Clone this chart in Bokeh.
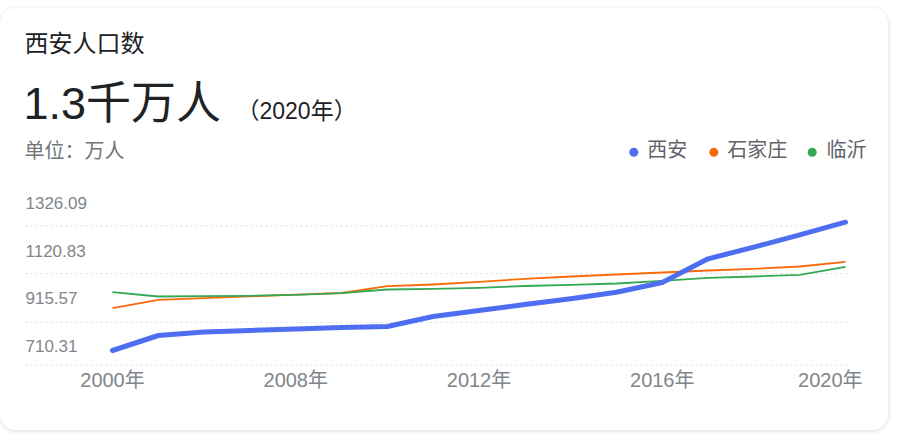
from bokeh.plotting import figure
from bokeh.models import Range1d
from bokeh.core.properties import value
from bokeh.embed import file_html
from bokeh.resources import INLINE

# ---------------- data ----------------
years = ["2000", "2005", "2006", "2007", "2008", "2009", "2010", "2011", "2012",
         "2013", "2014", "2015", "2016", "2017", "2018", "2019", "2020"]
xian = [710.31, 782.3, 799.1, 806.3, 813.5, 820.7, 825.5, 873.5, 902.3,
        931.1, 958.4, 990.1, 1036.7, 1150.4, 1206.1, 1265.6, 1326.09]
shijiazhuang = [913.3, 953.6, 961.8, 970.0, 978.1, 986.3, 1018.9, 1027.1, 1040.0,
                1054.4, 1065.5, 1075.1, 1084.7, 1094.3, 1102.4, 1113.5, 1136.0]
linyi = [990.1, 969.5, 970.9, 972.8, 977.6, 985.3, 1003.1, 1006.4, 1011.2,
         1019.9, 1025.6, 1031.9, 1044.8, 1059.2, 1065.5, 1073.6, 1112.0]
series_names = ["西安", "石家庄", "临沂"]
series_colors = ["#4e6ef2", "#fa6a0a", "#34a853"]
y_tick_labels = ["1326.09", "1120.83", "915.57", "710.31"]
x_tick_years = ["2000", "2008", "2012", "2016", "2020"]
x_tick_suffix = "年"
title_text = "西安人口数"
headline_text = "1.3千万人"
headline_year = "（2020年）"
unit_text = "单位：万人"

# ---------------- layout ----------------
W, H = 888, 422
FONT = "Liberation Sans, Noto Sans CJK SC"
X0_PX, DX_PX = 112.0, 45.8125          # canvas x of first category, spacing
Y_LO_PX, Y_HI_PX = 342.0, 213.7        # canvas y of lowest / highest tick value
LAB_TOP_PX, LAB_STEP_PX = 194.3, 47.8  # canvas y of tick labels

tick_vals = [float(t) for t in y_tick_labels]
y_hi, y_lo = max(tick_vals), min(tick_vals)
upp = (y_hi - y_lo) / (Y_LO_PX - Y_HI_PX)
lupp = (y_hi - y_lo) / ((len(tick_vals) - 1) * LAB_STEP_PX)

x_range = Range1d(-X0_PX / DX_PX, (W - X0_PX) / DX_PX)
y_range = Range1d(y_lo - (H - Y_LO_PX) * upp, y_hi + Y_HI_PX * upp)


def px_x(cx):
    return (cx - X0_PX) / DX_PX


def px_y(cy):
    return y_hi + (Y_HI_PX - cy) * upp


p = figure(width=W, height=H, x_range=x_range, y_range=y_range,
           output_backend="svg", toolbar_location=None,
           x_axis_location=None, y_axis_location=None, min_border=0)
p.extra_y_ranges = {"lab": Range1d(y_hi - (H - LAB_TOP_PX) * lupp, y_hi + LAB_TOP_PX * lupp)}
p.grid.visible = False
p.outline_line_color = None
p.background_fill_color = "white"
p.border_fill_color = "white"
p.styles = {"margin-top": "8px", "border-radius": "16px", "overflow": "hidden",
            "box-shadow": "0 1px 4px rgba(32,33,36,0.18)"}

# grid lines (dotted), placed just below each tick label
grid_offsets_px = [23, 23, 24, 19]
grid_y = [v - o * lupp for v, o in zip(tick_vals, grid_offsets_px)]
p.segment(x0=[px_x(25)] * len(grid_y), x1=[px_x(848)] * len(grid_y),
          y0=grid_y, y1=grid_y, y_range_name="lab",
          line_color="#dadce0", line_width=1, line_dash="2 3")

# y tick labels
p.text(x=[px_x(25)] * len(tick_vals), y=tick_vals, text=y_tick_labels,
       y_range_name="lab", text_font=value(FONT), text_font_size="17px",
       text_color="#80868b", text_align="left", text_baseline="middle")

# x tick labels
xs = list(range(len(years)))
x_tick_pos = [years.index(y) for y in x_tick_years]
x_tick_text = [y + x_tick_suffix for y in x_tick_years]
x_tick_align = ["center"] * (len(x_tick_years) - 1) + ["right"]
x_tick_xoff = [0] * (len(x_tick_years) - 1) + [17]
p.text(x=x_tick_pos, y=[px_y(371.5)] * len(x_tick_pos), text=x_tick_text,
       x_offset=x_tick_xoff, text_align=x_tick_align,
       text_font=value(FONT), text_font_size="20px", text_color="#80868b",
       text_baseline="middle")

# series lines
p.line(xs, shijiazhuang, line_color=series_colors[1], line_width=1.8, line_join="round")
p.line(xs, linyi, line_color=series_colors[2], line_width=1.8, line_join="round")
p.line(xs, xian, line_color=series_colors[0], line_width=5, line_join="round", line_cap="round")

# header texts
p.text(x=[px_x(24)], y=[px_y(35)], text=[title_text], text_font=value(FONT),
       text_font_size="24px", text_color="#202124", text_baseline="middle")
p.text(x=[px_x(23)], y=[px_y(94.5)], text=[headline_text], text_font=value(FONT),
       text_font_size="45px", text_color="#202124", text_baseline="middle")
p.text(x=[px_x(236)], y=[px_y(102)], text=[headline_year], text_font=value(FONT),
       text_font_size="23px", text_color="#202124", text_baseline="middle")
p.text(x=[px_x(24)], y=[px_y(142)], text=[unit_text], text_font=value(FONT),
       text_font_size="20px", text_color="#70757a", text_baseline="middle")

# legend
dot_cx = [633.3, 713.3, 811.7]
txt_cx = [646.7, 726.7, 826.0]
p.scatter(x=[px_x(c) for c in dot_cx], y=[px_y(143.7)] * 3, size=9,
          marker="circle", fill_color=series_colors, line_color=None)
p.text(x=[px_x(c) for c in txt_cx], y=[px_y(141.2)] * 3, text=series_names,
       text_font=value(FONT), text_font_size="20px", text_color="#5f6368",
       text_baseline="middle")

open("out.html", "w").write(file_html(p, INLINE))
